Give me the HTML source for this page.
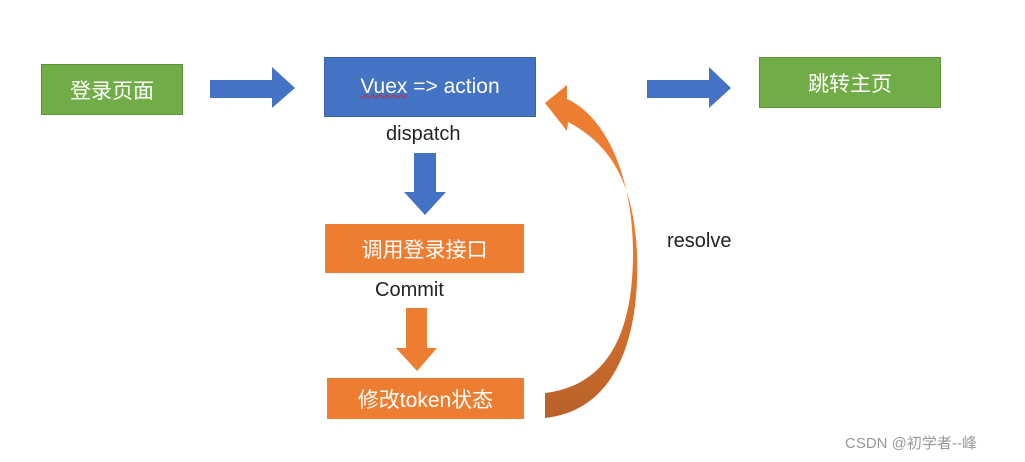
<!DOCTYPE html>
<html><head><meta charset="utf-8"><style>
body{margin:0;width:1025px;height:462px;background:#fff;position:relative;overflow:hidden;font-family:"Liberation Sans","Noto Sans CJK SC",sans-serif}
.b{position:absolute;color:#fff;display:flex;align-items:center;justify-content:center;font-size:21px}
.t{position:absolute;font-size:20px;color:#222}
</style></head><body>
<div class="b" style="left:41px;top:64px;width:142px;height:51px;background:#70AD47;border:1px solid #5e9439;box-sizing:border-box">登录页面</div>
<div class="b" style="left:324px;top:57px;width:212px;height:60px;background:#4472C4;border:1px solid #3a62ad;box-sizing:border-box"><span style="text-decoration:underline wavy #d22;text-decoration-thickness:1px">Vuex</span>&nbsp;=&gt; action</div>
<div class="b" style="left:759px;top:57px;width:182px;height:51px;background:#70AD47;border:1px solid #5e9439;box-sizing:border-box">跳转主页</div>
<div class="b" style="left:325px;top:224px;width:199px;height:49px;background:#ED7D31">调用登录接口</div>
<div class="b" style="left:327px;top:378px;width:197px;height:41px;background:#ED7D31">修改token状态</div>
<div class="t" style="left:386px;top:123px">dispatch</div>
<div class="t" style="left:375px;top:279px">Commit</div>
<div class="t" style="left:667px;top:230px">resolve</div>
<div style="position:absolute;left:845px;top:432px;font-size:15px;color:#999">CSDN @初学者--峰</div>
<svg width="1025" height="462" style="position:absolute;left:0;top:0">
<defs><linearGradient id="g" x1="0" y1="0" x2="0" y2="1"><stop offset="0.4" stop-color="#ED7D31"/><stop offset="1" stop-color="#B8612A"/></linearGradient></defs>
<polygon points="210,80 272,80 272,67 295,88 272,108 272,98 210,98" fill="#4472C4"/>
<polygon points="647,80 709,80 709,67 731,88 709,108 709,98 647,98" fill="#4472C4"/>
<polygon points="414,153 436,153 436,192 446,192 425,215 404,192 414,192" fill="#4472C4"/>
<polygon points="406,308 427,308 427,348 437,348 417,371 396,348 406,348" fill="#ED7D31"/>
<path d="M545,418 C620,410 640,330 637,253 C634,185 612,145 568,122 L567,131 L545,103 L567,85 L567,99 C605,116 633,175 633,253 C633,330 610,385 545,393 Z" fill="url(#g)"/>
</svg>
</body></html>
